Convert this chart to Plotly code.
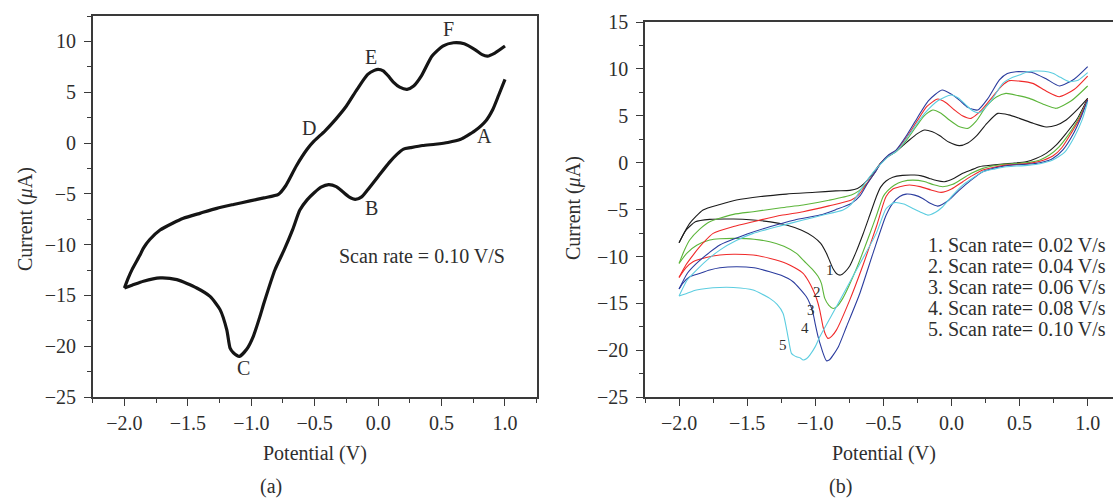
import plotly.graph_objects as go

# ---------------- data: panel (a) ----------------
a_upper = [(-2.0, -14.27), (-1.97, -13.3), (-1.94, -12.46), (-1.876, -11.0), (-1.85, -10.34),
           (-1.8, -9.5), (-1.719, -8.57), (-1.62, -7.9), (-1.535, -7.41), (-1.4, -6.9),
           (-1.272, -6.43), (-1.14, -6.05), (-1.01, -5.7), (-0.9, -5.4), (-0.786, -5.05),
           (-0.73, -4.23), (-0.645, -2.26), (-0.56, -0.62), (-0.504, 0.2), (-0.42, 1.18),
           (-0.335, 2.33), (-0.25, 3.64), (-0.166, 5.28), (-0.082, 6.75), (-0.03, 7.15),
           (0.0, 7.25), (0.04, 7.1), (0.08, 6.6), (0.12, 6.0), (0.17, 5.5), (0.228, 5.28),
           (0.28, 5.6), (0.341, 6.6), (0.425, 8.56), (0.51, 9.54), (0.594, 9.87), (0.679, 9.77),
           (0.763, 9.2), (0.82, 8.7), (0.862, 8.55), (0.92, 8.85), (1.0, 9.54)]
a_lower = [(1.0, 6.26), (0.95, 4.7), (0.904, 3.3), (0.85, 2.2), (0.763, 1.2), (0.7, 0.7),
           (0.651, 0.36), (0.55, 0.05), (0.45, -0.12), (0.35, -0.25), (0.256, -0.46),
           (0.2, -0.6), (0.15, -1.1), (0.087, -1.93), (0.003, -3.25), (-0.082, -4.6),
           (-0.13, -5.3), (-0.18, -5.55), (-0.23, -5.3), (-0.279, -4.8), (-0.33, -4.3),
           (-0.39, -4.1), (-0.45, -4.35), (-0.504, -4.9), (-0.56, -5.6), (-0.617, -6.6),
           (-0.673, -8.5), (-0.74, -10.5), (-0.814, -12.5), (-0.9, -15.75), (-0.93, -17.0),
           (-0.983, -19.0), (-1.036, -20.3), (-1.094, -21.0), (-1.141, -20.65), (-1.167, -20.2),
           (-1.193, -18.4), (-1.246, -16.4), (-1.325, -15.1), (-1.43, -14.27), (-1.587, -13.45),
           (-1.719, -13.28), (-1.85, -13.6), (-1.94, -14.0), (-2.0, -14.27)]
a_peak_names = ["A", "B", "C", "D", "E", "F"]
a_peak_x = [0.837, -0.054, -1.062, -0.544, -0.054, 0.552]
a_peak_y = [0.69, -6.36, -22.17, 1.51, 8.49, 11.18]
a_note = "Scan rate = 0.10 V/S"

# ---------------- data: panel (b) ----------------
b1_top = [(-2.0, -8.52), (-1.96, -7.4), (-1.922, -6.46), (-1.824, -5.04), (-1.7, -4.45),
          (-1.579, -3.98), (-1.4, -3.6), (-1.212, -3.34), (-1.0, -3.15), (-0.85, -3.0),
          (-0.747, -2.95), (-0.69, -2.75), (-0.64, -2.2), (-0.58, -1.2), (-0.52, -0.05),
          (-0.46, 0.7), (-0.407, 1.2), (-0.35, 1.9), (-0.309, 2.42), (-0.25, 3.1),
          (-0.198, 3.49), (-0.14, 3.3), (-0.088, 2.9), (-0.02, 2.2), (0.058, 1.82), (0.12, 2.1),
          (0.18, 2.8), (0.26, 4.2), (0.34, 5.26), (0.42, 5.1), (0.499, 4.73), (0.6, 4.2),
          (0.695, 3.81), (0.77, 4.0), (0.842, 4.55), (0.92, 5.6), (1.0, 6.86)]
b1_bot = [(1.0, 6.86), (0.92, 4.6), (0.842, 3.13), (0.77, 1.9), (0.695, 1.0), (0.62, 0.45),
          (0.548, 0.11), (0.45, -0.05), (0.377, -0.14), (0.3, -0.25), (0.205, -0.42),
          (0.14, -0.8), (0.083, -1.13), (0.02, -1.65), (-0.052, -2.02), (-0.11, -1.9),
          (-0.162, -1.67), (-0.22, -1.4), (-0.272, -1.31), (-0.36, -1.35), (-0.431, -1.55),
          (-0.48, -1.95), (-0.52, -2.6), (-0.551, -3.6), (-0.6, -5.6), (-0.649, -7.6),
          (-0.7, -9.5), (-0.747, -11.0), (-0.78, -11.6), (-0.815, -11.97), (-0.845, -11.8),
          (-0.869, -11.3), (-0.893, -10.5), (-0.918, -9.66), (-0.96, -8.6), (-1.016, -7.88),
          (-1.1, -7.2), (-1.212, -6.64), (-1.33, -6.3), (-1.456, -6.11), (-1.6, -6.0),
          (-1.775, -6.04), (-1.88, -6.3), (-1.95, -7.2), (-2.0, -8.52)]
b2_top = [(-2.0, -10.73), (-1.96, -9.3), (-1.922, -8.24), (-1.85, -7.1), (-1.775, -6.29),
          (-1.6, -5.5), (-1.456, -5.22), (-1.25, -4.8), (-1.089, -4.51), (-0.9, -4.0),
          (-0.735, -3.44), (-0.68, -3.0), (-0.62, -2.2), (-0.57, -1.2), (-0.52, -0.07),
          (-0.46, 0.75), (-0.407, 1.2), (-0.33, 2.4), (-0.26, 3.84), (-0.2, 5.0), (-0.137, 5.62),
          (-0.08, 5.3), (-0.015, 4.55), (0.05, 3.9), (0.12, 3.66), (0.18, 4.4), (0.254, 5.97),
          (0.33, 7.0), (0.40, 7.39), (0.49, 7.15), (0.572, 6.86), (0.68, 6.2), (0.768, 5.8),
          (0.88, 6.6), (1.0, 8.18)]
b2_bot = [(1.0, 6.68), (0.93, 4.6), (0.866, 3.13), (0.79, 1.7), (0.719, 0.82), (0.65, 0.3),
          (0.572, 0.04), (0.48, -0.08), (0.401, -0.14), (0.32, -0.3), (0.23, -0.6), (0.15, -1.1),
          (0.083, -1.67), (0.01, -2.3), (-0.064, -2.56), (-0.13, -2.35), (-0.2, -2.0),
          (-0.284, -1.85), (-0.36, -2.0), (-0.42, -2.4), (-0.47, -3.0), (-0.502, -3.62),
          (-0.55, -5.6), (-0.6, -7.6), (-0.698, -11.3), (-0.796, -14.4), (-0.84, -15.3),
          (-0.869, -15.53), (-0.9, -15.2), (-0.93, -14.46), (-0.955, -12.86), (-0.98, -12.1),
          (-1.016, -11.44), (-1.08, -10.5), (-1.138, -9.66), (-1.23, -8.9), (-1.334, -8.42),
          (-1.45, -8.15), (-1.579, -8.06), (-1.7, -8.1), (-1.775, -8.24), (-1.87, -8.8),
          (-1.94, -9.6), (-2.0, -10.73)]
b3_top = [(-2.0, -12.22), (-1.95, -10.9), (-1.897, -9.84), (-1.82, -8.5), (-1.75, -7.53),
          (-1.6, -6.8), (-1.456, -6.29), (-1.25, -5.6), (-1.089, -5.22), (-0.9, -4.6),
          (-0.735, -3.98), (-0.68, -3.4), (-0.625, -2.3), (-0.57, -1.2), (-0.52, -0.07),
          (-0.46, 0.8), (-0.407, 1.3), (-0.33, 2.7), (-0.25, 4.5), (-0.18, 6.0), (-0.101, 6.79),
          (-0.04, 6.4), (0.022, 5.62), (0.08, 5.0), (0.144, 4.73), (0.22, 5.6), (0.303, 7.04),
          (0.37, 8.2), (0.425, 8.75), (0.5, 8.7), (0.597, 8.46), (0.7, 7.6), (0.792, 7.04),
          (0.9, 7.8), (1.0, 9.24)]
b3_bot = [(1.0, 6.75), (0.94, 4.7), (0.878, 3.13), (0.81, 1.6), (0.744, 0.71), (0.65, 0.15),
          (0.572, -0.07), (0.48, -0.18), (0.401, -0.25), (0.32, -0.45), (0.23, -0.78),
          (0.15, -1.4), (0.083, -2.02), (0.0, -2.8), (-0.076, -3.16), (-0.15, -2.9),
          (-0.23, -2.55), (-0.309, -2.38), (-0.38, -2.55), (-0.43, -2.8), (-0.48, -3.6),
          (-0.551, -6.8), (-0.649, -10.9), (-0.747, -14.64), (-0.845, -17.84), (-0.88, -18.5),
          (-0.906, -18.72), (-0.925, -18.3), (-0.943, -17.48), (-0.967, -15.7), (-0.99, -14.5),
          (-1.016, -13.57), (-1.05, -12.6), (-1.089, -11.79), (-1.15, -11.2), (-1.212, -10.73),
          (-1.33, -10.2), (-1.456, -9.84), (-1.6, -9.75), (-1.701, -9.84), (-1.8, -10.1),
          (-1.897, -10.55), (-1.95, -11.2), (-2.0, -12.22)]
b4_top = [(-2.0, -13.46), (-1.94, -11.8), (-1.872, -10.73), (-1.78, -9.6), (-1.701, -8.77),
          (-1.5, -7.6), (-1.334, -6.82), (-1.15, -6.1), (-0.967, -5.58), (-0.85, -5.0),
          (-0.735, -4.33), (-0.67, -3.5), (-0.612, -2.1), (-0.56, -1.0), (-0.52, -0.07),
          (-0.46, 0.85), (-0.407, 1.35), (-0.33, 2.9), (-0.25, 4.8), (-0.17, 6.6), (-0.069, 7.75),
          (0.0, 7.3), (0.058, 6.68), (0.12, 5.9), (0.193, 5.62), (0.27, 6.9), (0.352, 8.82),
          (0.41, 9.5), (0.474, 9.7), (0.597, 9.6), (0.7, 8.9), (0.792, 8.18), (0.9, 8.9),
          (1.0, 10.24)]
b4_bot = [(1.0, 6.68), (0.95, 4.8), (0.89, 2.95), (0.82, 1.4), (0.744, 0.46), (0.65, 0.0),
          (0.572, -0.14), (0.48, -0.22), (0.401, -0.32), (0.32, -0.55), (0.23, -0.96),
          (0.14, -1.9), (0.058, -2.91), (-0.02, -4.0), (-0.1, -4.62), (-0.16, -4.3),
          (-0.211, -3.8), (-0.27, -3.45), (-0.333, -3.34), (-0.38, -3.6), (-0.43, -4.3),
          (-0.48, -5.6), (-0.575, -9.6), (-0.673, -13.93), (-0.771, -17.48), (-0.83, -19.6),
          (-0.869, -20.5), (-0.895, -21.0), (-0.918, -21.1), (-0.942, -20.32), (-0.96, -19.5),
          (-0.979, -18.55), (-1.0, -17.2), (-1.016, -16.06), (-1.04, -15.0), (-1.065, -14.28),
          (-1.163, -12.68), (-1.25, -12.0), (-1.334, -11.62), (-1.45, -11.2), (-1.579, -11.08),
          (-1.7, -11.2), (-1.775, -11.44), (-1.85, -11.8), (-1.921, -12.15), (-1.97, -12.8),
          (-2.0, -13.46)]
b5_top = [(-2.0, -14.21), (-1.94, -12.5), (-1.872, -11.44), (-1.78, -10.2), (-1.701, -9.31),
          (-1.58, -8.3), (-1.456, -7.53), (-1.25, -6.7), (-1.089, -6.11), (-0.95, -5.6),
          (-0.796, -5.04), (-0.74, -4.5), (-0.698, -3.62), (-0.65, -2.5), (-0.6, -1.49),
          (-0.55, -0.6), (-0.52, -0.15), (-0.46, 0.7), (-0.407, 1.2), (-0.358, 2.0), (-0.3, 3.2),
          (-0.2, 5.2), (-0.1, 6.6), (-0.003, 7.22), (0.05, 6.9), (0.107, 6.15), (0.15, 5.6),
          (0.205, 5.33), (0.29, 6.6), (0.377, 8.46), (0.45, 9.1), (0.499, 9.35), (0.56, 9.7),
          (0.621, 9.78), (0.68, 9.75), (0.744, 9.53), (0.8, 9.1), (0.866, 8.64), (0.93, 8.8),
          (1.0, 9.6)]
b5_bot = [(1.0, 6.5), (0.96, 4.6), (0.903, 2.77), (0.83, 1.1), (0.744, 0.29), (0.65, -0.1),
          (0.572, -0.25), (0.48, -0.35), (0.401, -0.42), (0.32, -0.65), (0.23, -0.96),
          (0.16, -1.6), (0.083, -2.38), (0.0, -3.6), (-0.064, -4.69), (-0.12, -5.3),
          (-0.174, -5.58), (-0.23, -5.25), (-0.284, -4.87), (-0.35, -4.4), (-0.42, -4.25),
          (-0.48, -4.9), (-0.551, -7.5), (-0.698, -11.44), (-0.845, -15.35), (-0.967, -18.55),
          (-1.0, -19.6), (-1.04, -20.5), (-1.065, -20.9), (-1.089, -21.03), (-1.11, -20.8),
          (-1.138, -20.68), (-1.16, -20.5), (-1.175, -20.32), (-1.2, -18.55), (-1.236, -16.06),
          (-1.28, -15.1), (-1.334, -14.46), (-1.456, -13.57), (-1.6, -13.3), (-1.701, -13.29),
          (-1.8, -13.4), (-1.872, -13.57), (-1.94, -13.9), (-2.0, -14.21)]

b_curves = [(b1_top, b1_bot), (b2_top, b2_bot), (b3_top, b3_bot), (b4_top, b4_bot), (b5_top, b5_bot)]
b_colors = ["#1c1c1c", "#5cb53a", "#f02a2a", "#2b3c9e", "#5ccde0"]
b_numbers = ["1", "2", "3", "4", "5"]
b_number_x = [-0.893, -0.984, -1.028, -1.077, -1.236]
b_number_y = [-11.44, -13.75, -15.7, -17.66, -19.43]
b_legend = ["1. Scan rate= 0.02 V/s", "2. Scan rate= 0.04 V/s", "3. Scan rate= 0.06 V/s",
            "4. Scan rate= 0.08 V/s", "5. Scan rate= 0.10 V/s"]

x_ticks = [-2.0, -1.5, -1.0, -0.5, 0.0, 0.5, 1.0]

# ---------------- figure ----------------
W, H = 1113, 501
FONT = "Liberation Serif"
TXT = "#2e2e2e"
AX = "#3a3a3a"


def unzip(pairs):
    return [p[0] for p in pairs], [p[1] for p in pairs]


fig = go.Figure()

for branch in (a_upper, a_lower):
    xs, ys = unzip(branch)
    fig.add_trace(go.Scatter(x=xs, y=ys, mode="lines", xaxis="x", yaxis="y",
                             line=dict(color="#151515", width=3.2, shape="spline", smoothing=0.6),
                             hoverinfo="skip", showlegend=False))

for (top, bot), col in zip(b_curves, b_colors):
    for branch in (top, bot):
        xs, ys = unzip(branch)
        fig.add_trace(go.Scatter(x=xs, y=ys, mode="lines", xaxis="x2", yaxis="y2",
                                 line=dict(color=col, width=1.1, shape="spline", smoothing=0.6),
                                 hoverinfo="skip", showlegend=False))


def px(x):
    return x / W


def py(y):
    return 1 - y / H


axis_line = dict(showline=True, linecolor=AX, linewidth=1.5, showgrid=False, zeroline=False,
                 ticks="outside", ticklen=7, tickwidth=1.4, tickcolor=AX, automargin=False,
                 tickfont=dict(family=FONT, size=20, color=TXT))
minor_x = dict(dtick=0.25, ticks="outside", ticklen=4, tickwidth=1.2, tickcolor=AX)
minor_y = dict(dtick=2.5, ticks="outside", ticklen=4, tickwidth=1.2, tickcolor=AX)

fig.update_layout(
    width=W, height=H, margin=dict(l=0, r=0, t=0, b=0, pad=0, autoexpand=False),
    paper_bgcolor="white", plot_bgcolor="white", showlegend=False,
    xaxis=dict(domain=[px(92.7), px(536.7)], range=[-2.25, 1.25], anchor="y",
               tickvals=x_ticks, tickformat=".1f", mirror=True, minor=minor_x, **axis_line),
    yaxis=dict(domain=[py(397), py(16)], range=[-25, 12.5], anchor="x", dtick=5, tick0=0,
               mirror=True, ticklabelstandoff=4, minor=minor_y, **axis_line),
    xaxis2=dict(domain=[px(645), 1.0], range=[-2.25, 1.186], anchor="y2",
                tickvals=x_ticks, tickformat=".1f", mirror=True, minor=minor_x, **axis_line),
    yaxis2=dict(domain=[py(397.3), py(22)], range=[-25, 15], anchor="x2", dtick=5, tick0=0,
                ticklabelstandoff=4, minor=minor_y, **axis_line),
)

ann = []
# panel (a) peak letters
for name, x, y in zip(a_peak_names, a_peak_x, a_peak_y):
    ann.append(dict(x=x, y=y, xref="x", yref="y", text=name, showarrow=False,
                    font=dict(family=FONT, size=20, color=TXT)))
ann.append(dict(x=0.346, y=-11.17, xref="x", yref="y", text=a_note, showarrow=False,
                font=dict(family=FONT, size=20, color=TXT)))
# panel (b) curve numbers
for name, x, y in zip(b_numbers, b_number_x, b_number_y):
    ann.append(dict(x=x, y=y, xref="x2", yref="y2", text=name, showarrow=False,
                    font=dict(family=FONT, size=15, color=TXT)))
# panel (b) legend text
for i, t in enumerate(b_legend):
    ann.append(dict(x=px(925.7), y=py(244.7 + 21 * i), xref="paper", yref="paper", text=t,
                    showarrow=False, xanchor="left", yanchor="middle",
                    font=dict(family=FONT, size=20, color=TXT)))
# axis titles and panel labels
for x, y, t, ang in [(314.7, 453, "Potential (V)", 0), (884, 453, "Potential (V)", 0),
                     (25, 219, "Current (<i>μ</i>A)", -90), (573, 208, "Current (<i>μ</i>A)", -90),
                     (271, 486, "(a)", 0), (840, 486, "(b)", 0)]:
    ann.append(dict(x=px(x), y=py(y), xref="paper", yref="paper", text=t, showarrow=False,
                    textangle=ang, xanchor="center", yanchor="middle",
                    font=dict(family=FONT, size=20, color=TXT)))
fig.update_layout(annotations=ann)

fig.write_html("out.html")
